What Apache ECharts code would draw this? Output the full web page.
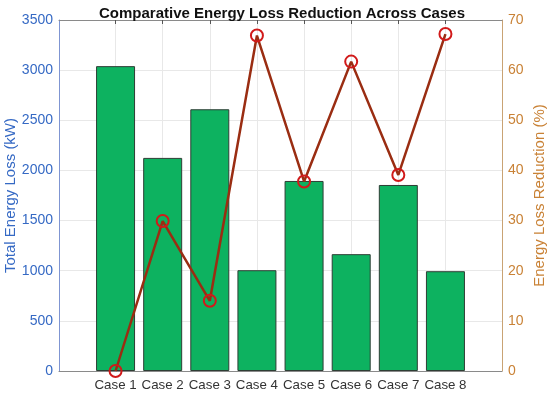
<!DOCTYPE html>
<html>
<head>
<meta charset="utf-8">
<script src="https://cdn.jsdelivr.net/npm/echarts@6/dist/echarts.min.js"></script>
<style>html,body{margin:0;padding:0;background:#fff}#c{width:550px;height:393px}</style>
</head>
<body>
<div id="c"></div>
<script>
const categories = ['Case 1','Case 2','Case 3','Case 4','Case 5','Case 6','Case 7','Case 8'];
const totalEnergyLoss = [3040, 2125, 2610, 1005, 1895, 1165, 1855, 995];
const lossReduction = [0, 29.9, 14.0, 66.9, 37.8, 61.7, 39.1, 67.2];
const leftTicks = [0, 500, 1000, 1500, 2000, 2500, 3000, 3500];
const rightTicks = [0, 10, 20, 30, 40, 50, 60, 70];

const positions = categories.map((c, i) => i + 1);
const FONT = 'Liberation Sans, Arial, sans-serif';
const BLUE = '#3569c4';
const ORANGE = '#c98236';

const chart = echarts.init(document.getElementById('c'), null, {renderer: 'canvas'});
const xBase = {
  type: 'value', min: -0.2, max: 9.2,
  axisLine: {show: true, onZero: false, lineStyle: {color: '#8a8a8a', width: 1}},
  axisTick: {show: true, inside: true, length: 4, customValues: positions, lineStyle: {color: '#555'}},
  splitLine: {show: true, lineStyle: {color: '#e8e8e8', width: 1}}
};
chart.setOption({
  animation: false,
  title: {
    text: 'Comparative Energy Loss Reduction Across Cases',
    left: 277, top: 1, textAlign: 'center',
    textStyle: {fontFamily: FONT, fontSize: 15, fontWeight: 'bold', color: '#111'}
  },
  grid: {left: 59, right: 48, top: 20, bottom: 22, containLabel: false, outerBoundsMode: 'none'},
  xAxis: [
    Object.assign({}, xBase, {
      position: 'bottom',
      axisLabel: {
        customValues: positions, color: '#333', fontFamily: FONT, fontSize: 13.3, margin: 8,
        formatter: v => categories[Math.round(v) - 1] || ''
      }
    }),
    Object.assign({}, xBase, {
      position: 'top',
      axisLabel: {show: false},
      splitLine: {show: false}
    })
  ],
  yAxis: [
    {
      type: 'value', min: 0, max: 3500, interval: 500, position: 'left',
      name: 'Total Energy Loss (kW)', nameLocation: 'middle', nameGap: 41, nameRotate: 90,
      nameMoveOverlap: false,
      nameTextStyle: {color: BLUE, fontFamily: FONT, fontSize: 15},
      axisLine: {show: true, onZero: false, lineStyle: {color: '#7f95d2'}},
      axisTick: {show: false},
      axisLabel: {color: BLUE, fontFamily: FONT, fontSize: 14, margin: 6,
        formatter: v => leftTicks.includes(v) ? String(v) : ''},
      splitLine: {show: true, lineStyle: {color: '#e8e8e8'}}
    },
    {
      type: 'value', min: 0, max: 70, interval: 10, position: 'right',
      name: 'Energy Loss Reduction (%)', nameLocation: 'middle', nameGap: 30, nameRotate: 90,
      nameMoveOverlap: false,
      nameTextStyle: {color: ORANGE, fontFamily: FONT, fontSize: 15},
      axisLine: {show: true, onZero: false, lineStyle: {color: '#c9a374'}},
      axisTick: {show: false},
      axisLabel: {color: ORANGE, fontFamily: FONT, fontSize: 14, margin: 6,
        formatter: v => rightTicks.includes(v) ? String(v) : ''},
      splitLine: {show: false}
    }
  ],
  series: [
    {
      type: 'bar', xAxisIndex: 0, yAxisIndex: 0, barWidth: 39,
      data: positions.map((x, i) => [x, totalEnergyLoss[i]]),
      itemStyle: {color: '#0db260', borderColor: '#2e3e35', borderWidth: 1}
    },
    {
      type: 'line', xAxisIndex: 0, yAxisIndex: 1,
      data: positions.map((x, i) => [x, lossReduction[i]]),
      symbol: 'circle', symbolSize: 12,
      lineStyle: {color: '#9a2d12', width: 2.5},
      itemStyle: {color: 'rgba(0,0,0,0)', borderColor: '#d11a1a', borderWidth: 2}
    }
  ]
});
</script>
</body>
</html>
